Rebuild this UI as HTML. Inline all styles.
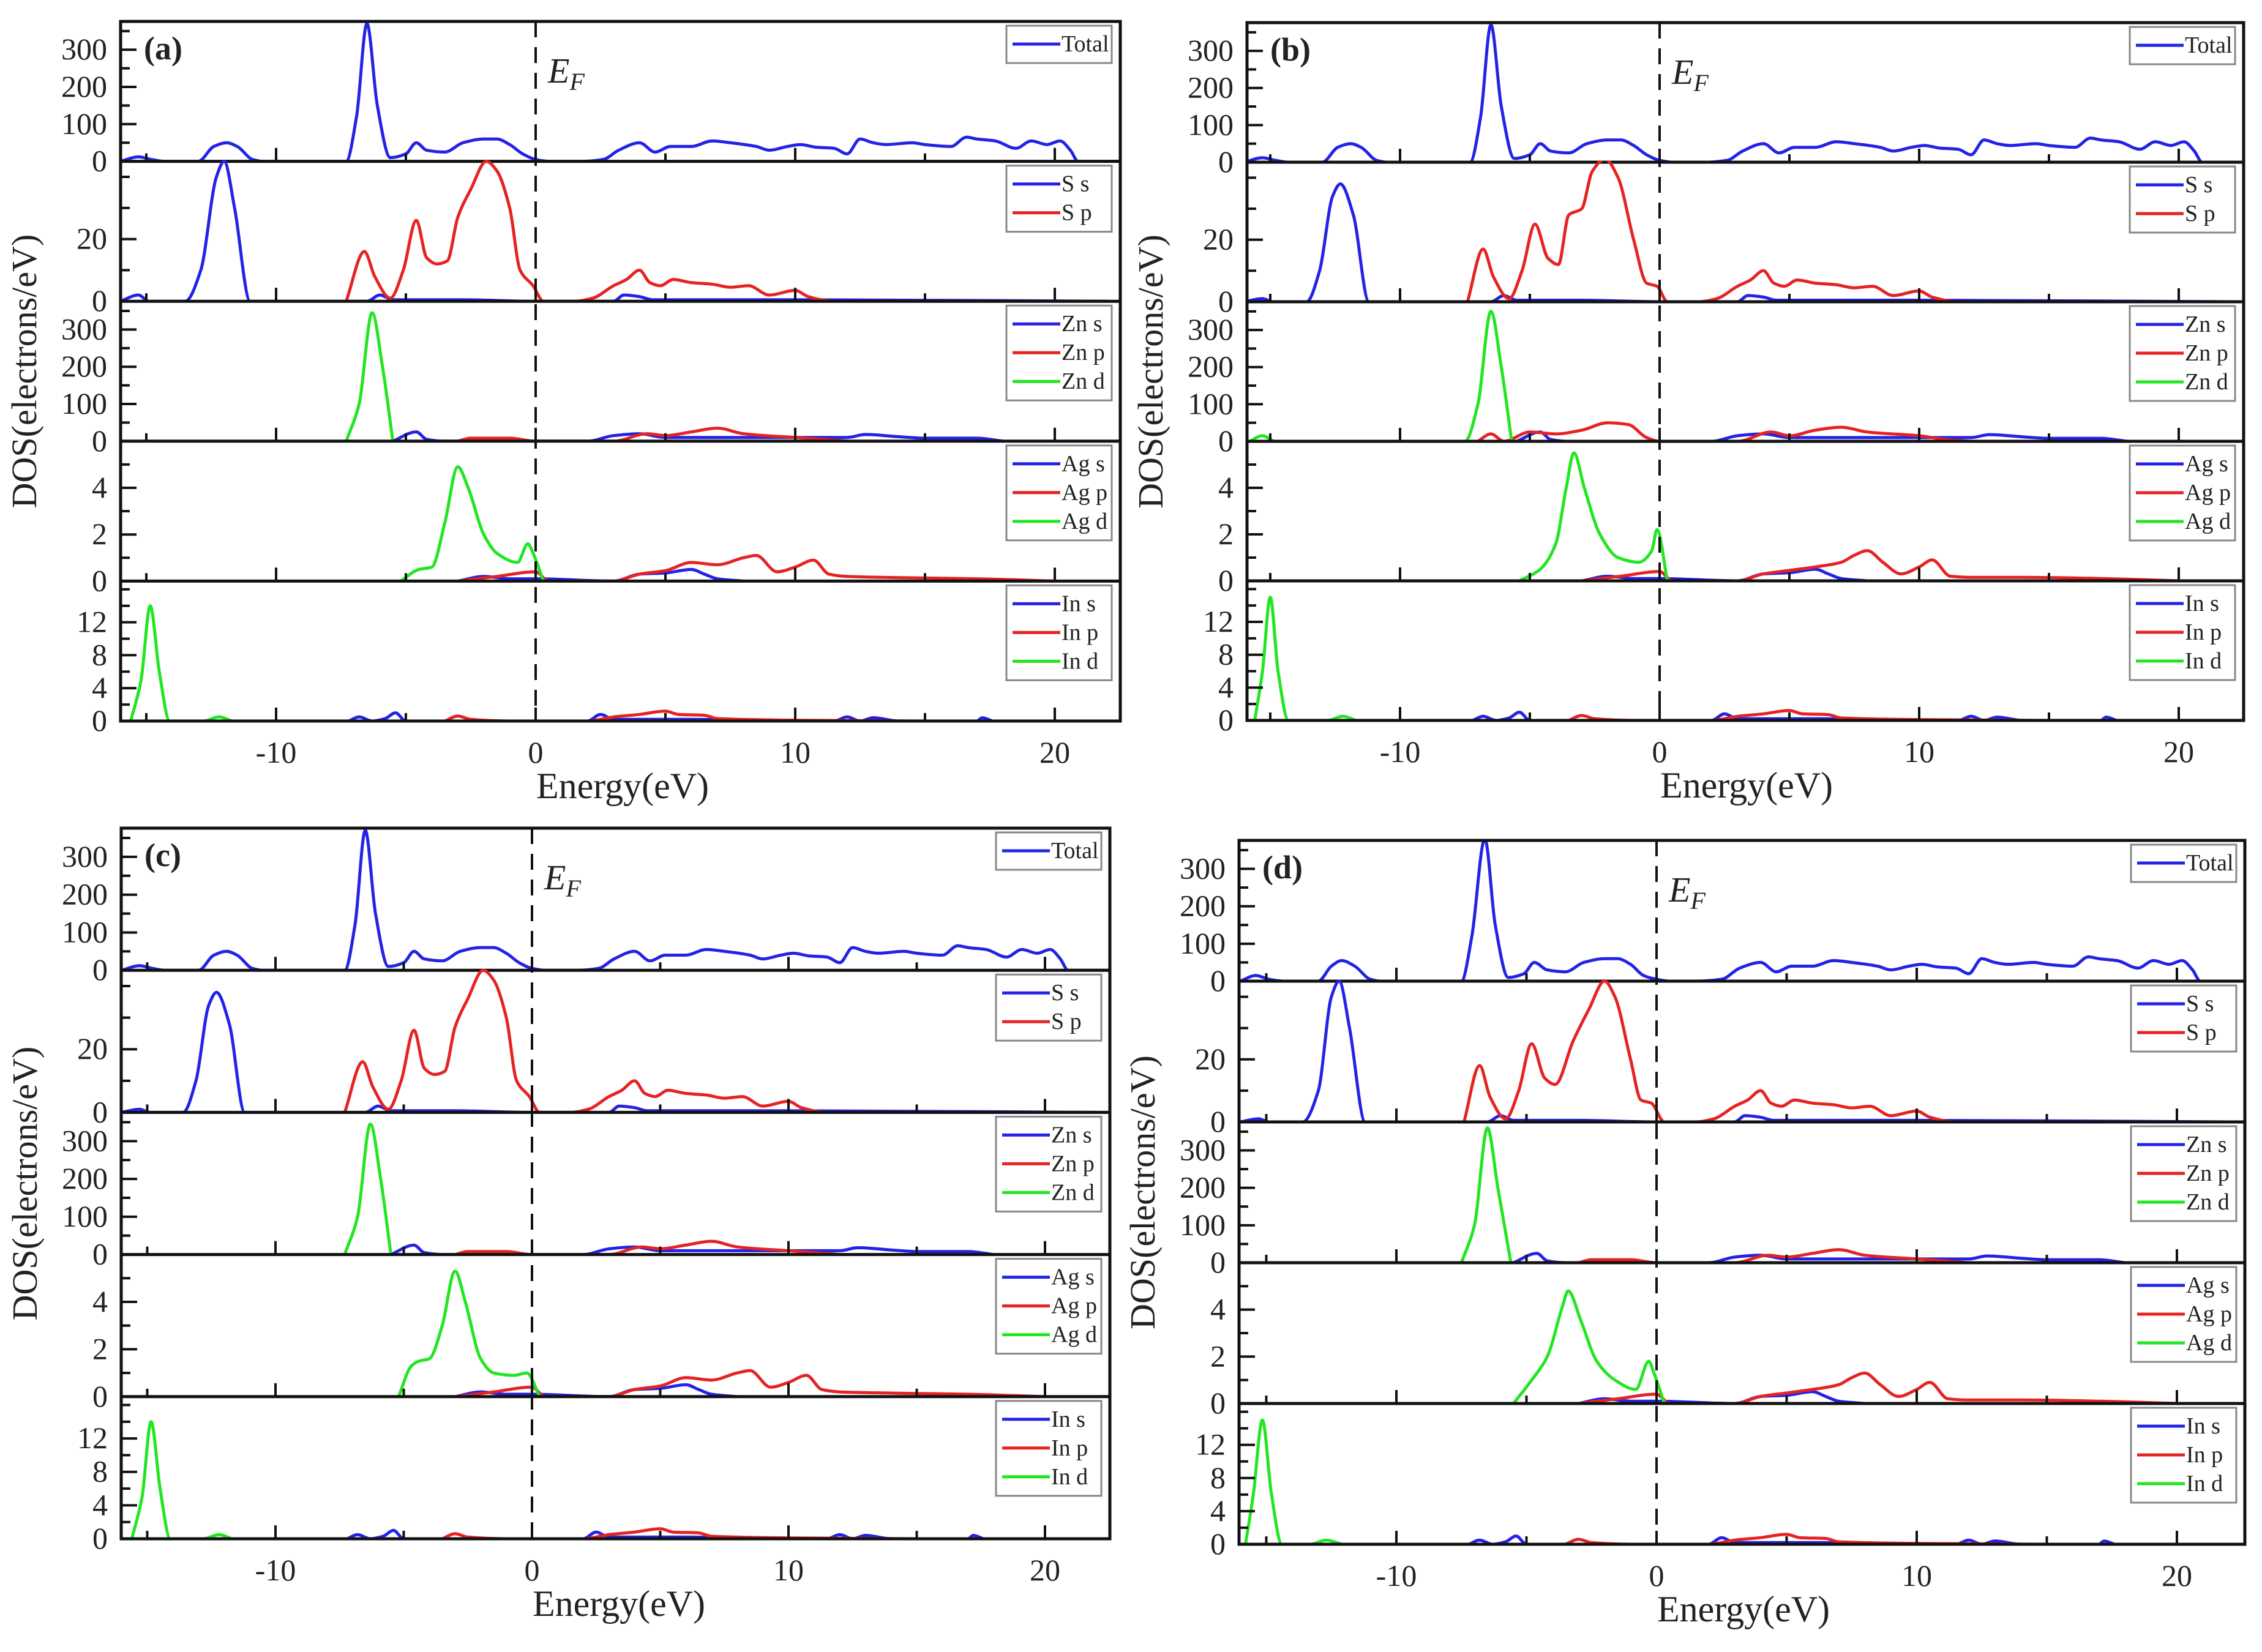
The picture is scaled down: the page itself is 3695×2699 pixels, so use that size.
<!DOCTYPE html>
<html><head><meta charset="utf-8">
<style>
html,body{margin:0;padding:0;background:#fff;}
svg{display:block;}
text{font-family:"Liberation Serif",serif;fill:#222;}
</style></head>
<body>
<svg id="fig" width="3695" height="2699" viewBox="0 0 3695 2699" xmlns="http://www.w3.org/2000/svg"></svg>
<script>
// ---------- data (energy eV, DOS) ----------
const A_total=[[-16,0],[-15.3,12],[-14.8,5],[-14.3,0],[-13,0],[-12.4,40],[-11.9,50],[-11.5,40],[-10.9,5],[-10.5,0],[-7.3,0],[-6.9,120],[-6.5,370],[-6.1,150],[-5.6,10],[-5.0,20],[-4.6,50],[-4.2,30],[-3.5,25],[-2.8,50],[-2,60],[-1.5,60],[-1,45],[-0.5,20],[0,5],[0.5,0],[1.8,0],[2.6,5],[3.2,30],[4.0,50],[4.6,25],[5.2,40],[6,40],[6.8,55],[7.5,50],[8.5,40],[9,30],[9.7,40],[10.2,45],[10.8,38],[11.5,35],[12,20],[12.5,60],[13,50],[13.5,45],[14.5,50],[15,45],[16,40],[16.6,65],[17,60],[17.7,55],[18.5,35],[19.1,55],[19.7,45],[20.2,55],[20.6,30],[20.9,0],[22.5,0]];
const D_total=[[-16,0],[-15.4,15],[-14.9,5],[-14.3,0],[-13,0],[-12.5,40],[-12.1,55],[-11.6,40],[-11,5],[-10.6,0],[-7.5,0],[-7.1,120],[-6.6,380],[-6.2,150],[-5.7,10],[-5.1,20],[-4.7,50],[-4.2,30],[-3.5,25],[-2.8,50],[-2,60],[-1.5,60],[-1,45],[-0.5,15],[0,5],[0.5,0],[1.5,0],[2.5,5],[3.2,35],[4.0,50],[4.6,25],[5.2,40],[6,40],[6.8,55],[7.5,50],[8.5,40],[9,30],[9.7,40],[10.2,45],[10.8,38],[11.5,35],[12,20],[12.5,60],[13,50],[13.5,45],[14.5,50],[15,45],[16,40],[16.6,65],[17,60],[17.7,55],[18.5,35],[19.1,55],[19.7,45],[20.2,55],[20.6,30],[20.9,0],[22.5,0]];
const A_Ss=[[-16,0],[-15.3,2],[-14.9,0],[-13.5,0],[-12.9,10],[-12.3,40],[-12.0,45],[-11.6,30],[-11.0,0],[-6.5,0],[-6,2],[-5.5,0.5],[-3,0.5],[0,0],[3,0],[3.4,2],[4,1.5],[4.5,0.5],[10,0.5],[22,0]];
const B_Ss=[[-16,0],[-15.3,1],[-14.9,0],[-13.6,0],[-13.1,10],[-12.6,34],[-12.3,38],[-11.8,28],[-11.2,0],[-6.5,0],[-6,2],[-5.5,0.5],[-3,0.5],[0,0],[3,0],[3.4,2],[4,1.5],[4.5,0.5],[10,0.5],[22,0]];
const D_Ss=[[-16,0],[-15.3,1],[-14.9,0],[-13.6,0],[-13.0,10],[-12.5,40],[-12.2,45],[-11.8,30],[-11.2,0],[-6.5,0],[-6,2],[-5.5,0.5],[-3,0.5],[0,0],[3,0],[3.4,2],[4,1.5],[4.5,0.5],[10,0.5],[22,0]];
const A_Sp=[[-7.3,0],[-6.6,16],[-6.2,8],[-5.6,1],[-5.1,10],[-4.6,26],[-4.2,14],[-3.8,12],[-3.4,13],[-3,27],[-2.5,36],[-1.9,45],[-1.5,42],[-1,30],[-0.6,10],[-0.1,5],[0.3,0],[1.5,0],[2.2,1],[3,5],[3.5,7],[4,10],[4.4,6],[4.8,5],[5.3,7],[6,6],[6.8,5.5],[7.5,4.5],[8.2,5],[9,2],[10,3.5],[10.5,1.5],[11.5,0],[22,0]];
const B_Sp=[[-7.4,0],[-6.8,17],[-6.4,8],[-5.8,1],[-5.3,10],[-4.8,25],[-4.3,14],[-3.9,12],[-3.5,28],[-3,30],[-2.6,42],[-2.1,46],[-1.6,40],[-1,20],[-0.5,6],[-0.1,5],[0.3,0],[1.5,0],[2.2,1],[3,5],[3.5,7],[4,10],[4.4,6],[4.8,5],[5.3,7],[6,6],[6.8,5.5],[7.5,4.5],[8.2,5],[9,2],[10,3.5],[10.5,1.5],[11.5,0],[22,0]];
const D_Sp=[[-7.4,0],[-6.8,18],[-6.4,8],[-5.8,1],[-5.3,10],[-4.8,25],[-4.3,14],[-3.9,12],[-3.2,26],[-2.6,36],[-2,45],[-1.6,40],[-1,20],[-0.6,7],[-0.2,6],[0.3,0],[1.5,0],[2.2,1],[3,5],[3.5,7],[4,10],[4.4,6],[4.8,5],[5.3,7],[6,6],[6.8,5.5],[7.5,4.5],[8.2,5],[9,2],[10,3.5],[10.5,1.5],[11.5,0],[22,0]];
const Zn_s=[[-5.5,0],[-4.6,25],[-4.2,5],[-3.5,0],[2,0],[3,15],[4,20],[5,10],[8,10],[10,10],[12,10],[12.7,18],[14,12],[15,8],[17,8],[18,0]];
const A_Znp=[[-3,0],[-2.5,8],[-1,8],[0,0],[3,0],[4.3,20],[5,15],[6,25],[7,35],[8,20],[10,10],[11,5],[12,0]];
const B_Znp=[[-7,0],[-6.5,20],[-6,0],[-5,25],[-4,20],[-3,30],[-2,50],[-1.2,45],[-0.5,10],[0,0],[3,0],[4.3,25],[5,15],[6,30],[7,38],[8,25],[10,15],[11,5],[12,0]];
const A_Znd=[[-7.3,0],[-6.8,100],[-6.3,345],[-5.9,200],[-5.5,0]];
const B_Znd=[[-15.8,0],[-15.3,15],[-14.8,0],[-7.5,0],[-7,100],[-6.5,350],[-6.1,200],[-5.7,0]];
const D_Znd=[[-7.5,0],[-7,100],[-6.5,360],[-6.1,200],[-5.6,0]];
const Ag_s=[[-3,0],[-2,0.2],[-1,0.1],[0,0.1],[3,0],[4,0.3],[5,0.35],[6,0.5],[6.5,0.3],[7,0.1],[8,0]];
const A_Agp=[[-3,0],[-1.5,0.2],[0,0.4],[0.5,0],[3,0],[4,0.3],[5,0.45],[6,0.8],[7,0.7],[8,1.0],[8.5,1.1],[9.3,0.4],[10,0.6],[10.7,0.9],[11.3,0.3],[12,0.2],[14,0.15],[17,0.1],[20,0]];
const B_Agp=[[-3,0],[-1.5,0.2],[0,0.4],[0.5,0],[3,0],[4,0.3],[5,0.45],[6,0.6],[7,0.8],[7.5,1.1],[8,1.3],[8.6,0.8],[9.3,0.3],[10,0.6],[10.5,0.9],[11.2,0.2],[12,0.15],[14,0.15],[17,0.1],[20,0]];
const A_Agd=[[-5.2,0],[-4.5,0.5],[-4,0.6],[-3.5,2.5],[-3,4.9],[-2.6,4],[-2,2],[-1.5,1.2],[-0.7,0.8],[-0.3,1.6],[-0.1,1.2],[0.3,0]];
const B_Agd=[[-5.4,0],[-4.6,0.5],[-4,1.6],[-3.6,4],[-3.3,5.5],[-2.9,4],[-2.3,2],[-1.6,1],[-0.8,0.8],[-0.3,1.3],[-0.1,2.2],[0.3,0]];
const C_Agd=[[-5.2,0],[-4.7,1.3],[-4.4,1.5],[-4,1.6],[-3.5,3],[-3,5.3],[-2.6,4],[-2,1.6],[-1.5,1],[-0.7,0.9],[-0.2,1],[0.3,0]];
const D_Agd=[[-5.5,0],[-4.8,1],[-4.2,2],[-3.6,4.2],[-3.4,4.8],[-2.9,3.5],[-2.3,1.8],[-1.6,1],[-0.8,0.6],[-0.3,1.8],[-0.1,1.3],[0.3,0]];
const In_s=[[-7.2,0],[-6.8,0.5],[-6.3,0],[-5.8,0.3],[-5.4,1],[-5,0],[2,0],[2.5,0.8],[3,0.2],[6,0.2],[11.5,0],[12,0.5],[12.5,0],[13,0.4],[14,0],[17,0],[17.2,0.4],[17.6,0]];
const In_p=[[-3.5,0],[-3,0.6],[-2.5,0.2],[-1,0],[2,0],[3,0.5],[4,0.8],[5,1.2],[5.5,0.8],[6.5,0.7],[7,0.3],[10,0.1],[15,0]];
const A_Ind=[[-15.6,0],[-15.2,5],[-14.85,14],[-14.5,6],[-14.1,0],[-12.8,0],[-12.2,0.5],[-11.7,0]];
const B_Ind=[[-15.6,0],[-15.3,6],[-15.0,15],[-14.7,6],[-14.3,0],[-12.8,0],[-12.2,0.5],[-11.7,0]];
const D_Ind=[[-15.8,0],[-15.5,6],[-15.15,15],[-14.8,6],[-14.4,0],[-13.3,0],[-12.7,0.5],[-12.1,0]];

const yMax=[376,45,376,6,17];
const yMajor=[[0,100,200,300],[0,20],[0,100,200,300],[0,2,4],[0,4,8,12]];
const yMinorStep=[50,10,50,1,2];
const xMajor=[-10,0,10,20];
const xMinor=[-15,-5,5,15];
const legendNames=[['Total'],['S s','S p'],['Zn s','Zn p','Zn d'],['Ag s','Ag p','Ag d'],['In s','In p','In d']];
const colors=['#2323e6','#e62323','#22e622'];

const panels=[
 {id:'a',L:197,R:1830,T:35,B:1178,x0:875,k:42.4,series:[[A_total],[A_Ss,A_Sp],[Zn_s,A_Znp,A_Znd],[Ag_s,A_Agp,A_Agd],[In_s,In_p,A_Ind]]},
 {id:'b',L:2037,R:3665,T:37,B:1177,x0:2711,k:42.4,series:[[A_total],[B_Ss,B_Sp],[Zn_s,B_Znp,B_Znd],[Ag_s,B_Agp,B_Agd],[In_s,In_p,B_Ind]]},
 {id:'c',L:198,R:1813,T:1353,B:2514,x0:869,k:41.9,series:[[A_total],[B_Ss,A_Sp],[Zn_s,A_Znp,A_Znd],[Ag_s,A_Agp,C_Agd],[In_s,In_p,A_Ind]]},
 {id:'d',L:2024,R:3667,T:1373,B:2523,x0:2706,k:42.5,series:[[D_total],[D_Ss,D_Sp],[Zn_s,A_Znp,D_Znd],[Ag_s,B_Agp,D_Agd],[In_s,In_p,D_Ind]]}
];

const NS='http://www.w3.org/2000/svg';
const svg=document.getElementById('fig');
function mk(tag,attrs,parent){const e=document.createElementNS(NS,tag);for(const a in attrs)e.setAttribute(a,attrs[a]);(parent||svg).appendChild(e);return e;}
// monotone cubic (Fritsch-Carlson) in screen coords, x increasing
function smoothPath(pts){
  const n=pts.length;
  const d=[],m=new Array(n).fill(0);
  for(let i=0;i<n-1;i++){const dx=pts[i+1][0]-pts[i][0];d.push(dx===0?0:(pts[i+1][1]-pts[i][1])/dx);}
  m[0]=d[0];m[n-1]=d[n-2];
  for(let i=1;i<n-1;i++){
    if(d[i-1]*d[i]<=0)m[i]=0;
    else{const h0=pts[i][0]-pts[i-1][0],h1=pts[i+1][0]-pts[i][0];const w1=2*h1+h0,w2=h1+2*h0;m[i]=(w1+w2)/(w1/d[i-1]+w2/d[i]);}
  }
  let s='M'+pts[0][0].toFixed(1)+','+pts[0][1].toFixed(1);
  for(let i=0;i<n-1;i++){
    const h=(pts[i+1][0]-pts[i][0])/3;
    s+=' C'+(pts[i][0]+h).toFixed(1)+','+(pts[i][1]+m[i]*h).toFixed(1)+' '+(pts[i+1][0]-h).toFixed(1)+','+(pts[i+1][1]-m[i+1]*h).toFixed(1)+' '+pts[i+1][0].toFixed(1)+','+pts[i+1][1].toFixed(1);
  }
  return s;
}

panels.forEach(p=>{
  const g=mk('g',{});
  
  
  const h=(p.B-p.T)/5;
  const xs=e=>p.x0+e*p.k;
  for(let s=0;s<5;s++){
    const top=p.T+s*h, bot=top+h;
    const ys=v=>bot-v/yMax[s]*h;
    const sg=mk('g',{},g);
    
    
    const clipId='clip'+p.id+s;
    const cp=mk('clipPath',{id:clipId},sg);
    mk('rect',{x:p.L,y:top-2,width:p.R-p.L,height:h+2},cp);
    const cg=mk('g',{'clip-path':'url(#'+clipId+')'},sg);
    p.series[s].forEach((ser,i)=>{
      const pts=ser.map(q=>[xs(q[0]),ys(q[1])]);
      const path=mk('path',{d:smoothPath(pts),fill:'none',stroke:colors[i],'stroke-width':5,'stroke-linejoin':'round'},cg);
      
      
    });
    xMajor.forEach(v=>mk('line',{x1:xs(v),x2:xs(v),y1:bot,y2:bot-22,stroke:'#111','stroke-width':4},sg));
    xMinor.forEach(v=>mk('line',{x1:xs(v),x2:xs(v),y1:bot,y2:bot-13,stroke:'#111','stroke-width':4},sg));
    for(let v=yMinorStep[s];v<yMax[s];v+=yMinorStep[s]){
      const major=yMajor[s].includes(v);
      mk('line',{x1:p.L,x2:p.L+(major?26:15),y1:ys(v),y2:ys(v),stroke:'#111','stroke-width':4},sg);
    }
    yMajor[s].forEach(v=>{
      const t=mk('text',{x:p.L-22,y:ys(v)+16,'text-anchor':'end','font-size':50},sg);
      t.textContent=v;
      
      
    });
    mk('line',{x1:p.L,x2:p.R,y1:bot,y2:bot,stroke:'#111','stroke-width':5},sg);
    const n=legendNames[s].length;
    const lw=172, lx=p.R-14-lw, ly=top+7, lh=n*47+14;
    const lg=mk('g',{},sg);
    
    
    mk('rect',{x:lx,y:ly,width:lw,height:lh,fill:'#fff',stroke:'#888','stroke-width':3},lg);
    legendNames[s].forEach((nm,i)=>{
      const cy=ly+30+i*47;
      mk('line',{x1:lx+10,x2:lx+88,y1:cy,y2:cy,stroke:colors[i],'stroke-width':5},lg);
      const t=mk('text',{x:lx+90,y:cy+12,'font-size':38},lg);
      t.textContent=nm;
      
      
    });
  }
  const fl=mk('line',{x1:p.x0,x2:p.x0,y1:p.T,y2:p.B,stroke:'#111','stroke-width':4,'stroke-dasharray':'26,16'},g);
  
  
  const fr=mk('rect',{x:p.L,y:p.T,width:p.R-p.L,height:p.B-p.T,fill:'none',stroke:'#111','stroke-width':5},g);
  
  
  xMajor.forEach(v=>{
    const t=mk('text',{x:xs(v),y:p.B+68,'text-anchor':'middle','font-size':50},g);
    t.textContent=v;
    
    
  });
  const xl=mk('text',{x:p.x0+142,y:p.B+126,'text-anchor':'middle','font-size':60},g);
  xl.textContent='Energy(eV)';
  
  
  const cyl=(p.T+p.B)/2, yx=p.L-138;
  const yl=mk('text',{x:yx,y:cyl,'text-anchor':'middle','font-size':58,transform:'rotate(-90 '+yx+' '+cyl+')'},g);
  yl.textContent='DOS(electrons/eV)';
  
  
  const ef=mk('text',{x:p.x0+20,y:p.T+100,'font-size':58,'font-style':'italic'},g);
  ef.innerHTML='E<tspan font-size="40" dy="12">F</tspan>';
  
  
  const pl=mk('text',{x:p.L+38,y:p.T+62,'font-size':54,'font-weight':'bold'},g);
  pl.textContent='('+p.id+')';
  
  
});
</script>
</body></html>
